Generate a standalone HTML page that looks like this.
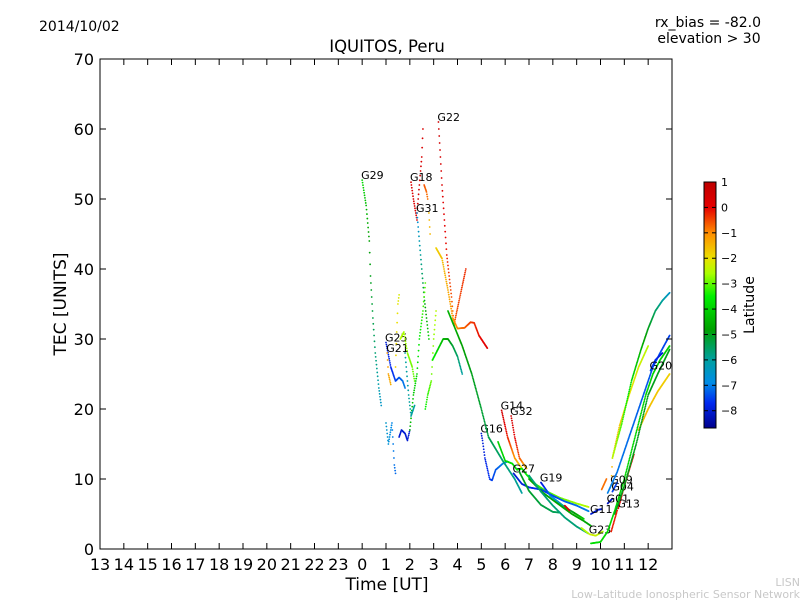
<!DOCTYPE html>
<html><head><meta charset="utf-8"><style>
body{margin:0;background:#fff;}
svg text{font-family:"DejaVu Sans","Liberation Sans",sans-serif;}
</style></head><body>
<svg id="chart" width="800" height="600" xmlns="http://www.w3.org/2000/svg">
<rect width="800" height="600" fill="#fff"/>
<text x="39" y="31" font-size="14">2014/10/02</text>
<text x="761" y="27" font-size="14" text-anchor="end">rx_bias = -82.0</text>
<text x="709" y="43" font-size="14" text-anchor="middle">elevation &gt; 30</text>
<text x="387" y="52" font-size="16.5" text-anchor="middle">IQUITOS, Peru</text>
<text transform="translate(66,304) rotate(-90)" font-size="17" text-anchor="middle">TEC [UNITS]</text>
<text x="387" y="590" font-size="17" text-anchor="middle">Time [UT]</text>
<text x="800" y="586" font-size="11" fill="#c8c8c8" text-anchor="end">LISN</text>
<text x="800" y="598" font-size="11" fill="#c8c8c8" text-anchor="end">Low-Latitude Ionospheric Sensor Network</text>
<g id="marks"></g>
<g id="axes"></g>
<defs><linearGradient id="jet" x1="0" y1="0" x2="0" y2="1"></linearGradient></defs>
<rect x="704" y="182" width="12" height="246" fill="url(#jet)" stroke="#000" stroke-width="1"/>
<text transform="translate(754,305) rotate(-90)" font-size="14" text-anchor="middle">Latitude</text>
<g id="cbar"></g>
</svg>
<script>
const latMin=-8.68, latMax=1;
const yTicks=[0,10,20,30,40,50,60,70];
const xTickLabels=["13","14","15","16","17","18","19","20","21","22","23","0","1","2","3","4","5","6","7","8","9","10","11","12"];
const cbarTicks=[1,0,-1,-2,-3,-4,-5,-6,-7,-8];
const trackNames=["G29","G18","","","","G31","G22","","","G25","G21","","","","","","","","","G16","","G14","G32","","G27","","G19","","","","G23","","G11","G09","","","G04","G01","G13","","","G20","","",""];
const trackTimes=[
[0.0,0.17,0.3,0.35,0.45,0.55,0.7,0.8],
[2.05,2.15,2.3],
[2.3,2.4,2.5,2.55],
[2.6,2.7,2.75],
[2.8,2.85],
[2.3,2.4,2.5,2.6,2.7,2.8],
[3.2,3.35,3.55,3.75,3.85],
[3.85,4.1,4.35],
[3.1,3.35,3.6,3.8,4.0,4.3,4.55,4.7,4.9,5.25],
[1.0,1.2,1.4,1.55,1.7,1.8],
[1.05,1.1,1.2],
[1.4,1.45,1.5,1.55],
[1.0,1.1,1.25,1.35,1.4],
[1.55,1.65,1.8,1.9,2.0],
[1.6,1.75,1.9,2.1,2.2],
[2.0,2.15,2.3,2.4,2.55,2.65],
[2.65,2.75,2.9,3.0,3.1],
[1.8,1.95,2.05,2.2],
[2.95,3.1,3.25,3.4,3.6,3.8,4.0,4.2],
[5.0,5.05,5.15,5.35,5.45,5.6,5.9,6.1],
[3.6,4.2,4.6,5.0,5.3,5.9,6.4,6.7],
[5.85,6.1,6.4,6.7],
[6.25,6.4,6.6,6.9],
[5.7,6.0,6.3,6.5,6.7,6.9,7.3,7.7,8.3,9.0,9.5],
[6.35,6.7,7.0,7.5,8.0,8.5,9.0,9.5],
[6.6,7.0,7.5,8.0,8.3],
[7.5,7.9,8.5,9.3],
[7.0,7.6,8.2,8.8,9.3,9.6],
[7.0,7.5,8.0,8.5,9.0,9.5],
[8.5,8.7],
[9.55,9.8,10.1],
[9.6,10.0,10.3,10.6,11.0,11.3,11.6,11.9,12.2,12.5,12.9],
[9.6,9.9,10.05],
[10.45,10.5,10.8,11.2,11.6,12.0],
[10.5,10.9,11.3,11.7,12.0,12.3,12.6,12.9],
[10.3,10.7,11.0,11.4,11.8,12.2,12.5,12.9],
[10.5,10.7],
[10.3,10.5],
[10.75,11.0,11.4],
[11.6,12.0,12.4,12.9],
[10.6,11.0,11.5,12.0,12.4,12.9],
[12.1,12.3,12.6],
[9.2,9.5],
[10.05,10.25],
[10.45,10.7]];
const trackTec=[
[52.7,49,44,39,33,28,23,20.5],
[52.4,50,47],
[48,52,56,60],
[52,51,50],
[48,45],
[48,44,40,36,33,30],
[61,52,42,36,32],
[32,36,40],
[43,41.5,37,33,31.5,31.6,32.4,32.3,30.5,28.7],
[29.5,26,24,24.5,24,23],
[28,25,23.5],
[26,31,35,36.3],
[18,15,18,12,10.8],
[16,17,16.5,15.5,17],
[30,31,28,26,24],
[17,22,25,30,34,38],
[20,22,24,30,34],
[28,22,19,20.5],
[27,28,29,30,30,29,27.5,25],
[16.5,15.5,13,10,9.8,11.3,12.2,12.5],
[34,29,25,20,16,12.6,10,8],
[19.8,16,13,11.5],
[19,16,13,11.5],
[15.3,12.6,12.2,11.3,11.5,10.6,9.2,8.3,7.3,6.5,6],
[10.8,9.3,8.8,8.5,7.6,6.8,6.2,5.4],
[11,8.3,6.3,5.3,5.2],
[9.5,7.6,6,4.3],
[10,8,6.5,5,4,3.3],
[10.5,8.2,6.2,4.5,3.2,2.2],
[6.2,5.5],
[2.1,1.9,2.5],
[0.8,1.0,2.5,5.5,10,14,18,22,25,27,29],
[5,5.6,5.7],
[9.2,13,17.6,22,26,29],
[13,18,24,28.5,31.5,34,35.5,36.6],
[8,11,14,18,22,26,28,30.5],
[8.2,9.5],
[6.5,7.2],
[5.8,9,13.5],
[17,20,22.5,25],
[5,9,15,22,25,28.5],
[25.5,27,28],
[3,2.2],
[8.5,10],
[2.5,5.5]];
const trackLat=[
[-3.8,-6.5],[0.3,0.3],[0.5,0.3],[-0.6,-0.8],[-1.5,-1.5],[-6.8,-4],[0.6,-0.8],[-0.6,-0.3],[-1.8,0.2],
[-8,-7],[-1.2,-1.4],[-1.8,-2.2],[-6.5,-7.2],[-8,-8],[-2.5,-3],[-4.5,-3],[-3.5,-2.5],[-6,-6],[-3.5,-6],
[-8,-6.8],[-4.5,-6],[0.5,-2],[0.5,-1.5],[-4,-2.5],[-8,-7],[-5,-5.5],[-8,-4],[-4.7,-4.7],[-5.7,-5.7],[0.3,0.3],
[-2.2,-2.5],[-3.8,-4],[-8,-8],[-1.5,-2.5],[-2.5,-6.5],[-7,-7.5],[-7.5,-7.5],[-8.2,-8.2],[0,0],[-1.5,-1.8],[-5,-5],[-7.5,-8],[-2.5,-2.5],[-0.8,-0.8],[-0.2,-0.2]];

const cmapLat=[1,0,-1,-2,-2.6,-3.5,-4.8,-6,-6.9,-7.7,-8.68];
const cmapCol=[[190,0,0],[230,0,0],[255,140,0],[235,225,0],[170,255,0],[0,240,0],[0,160,0],[0,160,160],[0,140,230],[0,40,240],[0,0,140]];

const X0=100,Y0=549,XW=572,YH=490;
const xs=t=>X0+(t+11)*XW/24;
const ys=v=>Y0-v*YH/70;
const cy=l=>182+(latMax-l)/(latMax-latMin)*246;
function col(l){l=Math.max(latMin,Math.min(latMax,l));
 for(let i=1;i<cmapLat.length;i++){if(l>=cmapLat[i]){const f=(cmapLat[i-1]-l)/(cmapLat[i-1]-cmapLat[i]);const a=cmapCol[i-1],b=cmapCol[i];
  return `rgb(${Math.round(a[0]+(b[0]-a[0])*f)},${Math.round(a[1]+(b[1]-a[1])*f)},${Math.round(a[2]+(b[2]-a[2])*f)})`;}}
 return 'rgb(0,0,140)';}
const NS="http://www.w3.org/2000/svg";
const grad=document.getElementById('jet');
cmapLat.forEach((l,i)=>{const s=document.createElementNS(NS,'stop');s.setAttribute('offset',(latMax-l)/(latMax-latMin));s.setAttribute('stop-color',col(l));grad.appendChild(s);});
const marks=document.getElementById('marks');
const dt=1/60;
trackTimes.forEach((tt,i)=>{
 const vv=trackTec[i],la=trackLat[i];
 const g=document.createElementNS(NS,'g');
 
 
 const T0=tt[0],T1=tt[tt.length-1];
 for(let t=T0;t<=T1+1e-9;t+=dt){
  let k=1;while(k<tt.length-1&&t>tt[k])k++;
  const f=(tt[k]===tt[k-1])?0:(t-tt[k-1])/(tt[k]-tt[k-1]);
  const v=vv[k-1]+(vv[k]-vv[k-1])*f;
  const p=(T1===T0)?0:(t-T0)/(T1-T0);
  const c=document.createElementNS(NS,'circle');c.setAttribute('cx',xs(t));c.setAttribute('cy',ys(v));c.setAttribute('r',0.9);c.setAttribute('fill',col(la[0]+(la[1]-la[0])*p));g.appendChild(c);
 }
 marks.appendChild(g);
 if(trackNames[i]){const t=document.createElementNS(NS,'text');
  
  
  t.setAttribute('x',xs(tt[0])-1);t.setAttribute('y',ys(vv[0])-1);t.setAttribute('font-size','11');t.textContent=trackNames[i];marks.appendChild(t);}
});
const ax=document.getElementById('axes');
let h=`<rect x="${X0}" y="59" width="${XW}" height="${YH}" fill="none" stroke="#000" stroke-width="1"/>`;
yTicks.forEach(v=>{const y=ys(v);h+=`<line x1="${X0}" x2="${X0+6}" y1="${y}" y2="${y}" stroke="#000"/><line x1="${X0+XW-6}" x2="${X0+XW}" y1="${y}" y2="${y}" stroke="#000"/><text x="${X0-6}" y="${y+6}" font-size="16" text-anchor="end">${v}</text>`;});
xTickLabels.forEach((s,k)=>{const x=X0+k*XW/24;h+=`<line x1="${x}" x2="${x}" y1="${Y0}" y2="${Y0-6}" stroke="#000"/><line x1="${x}" x2="${x}" y1="59" y2="65" stroke="#000"/><text x="${x}" y="570" font-size="16" text-anchor="middle">${s}</text>`;});
ax.innerHTML=h;
let cb='';
cbarTicks.forEach(v=>{const y=cy(v);cb+=`<line x1="704" x2="708" y1="${y}" y2="${y}" stroke="#000"/><line x1="712" x2="716" y1="${y}" y2="${y}" stroke="#000"/><text x="721" y="${y+4}" font-size="11">${v<0?'\u2212'+(-v):v}</text>`;});
document.getElementById('cbar').innerHTML=cb;
</script>
</body></html>
